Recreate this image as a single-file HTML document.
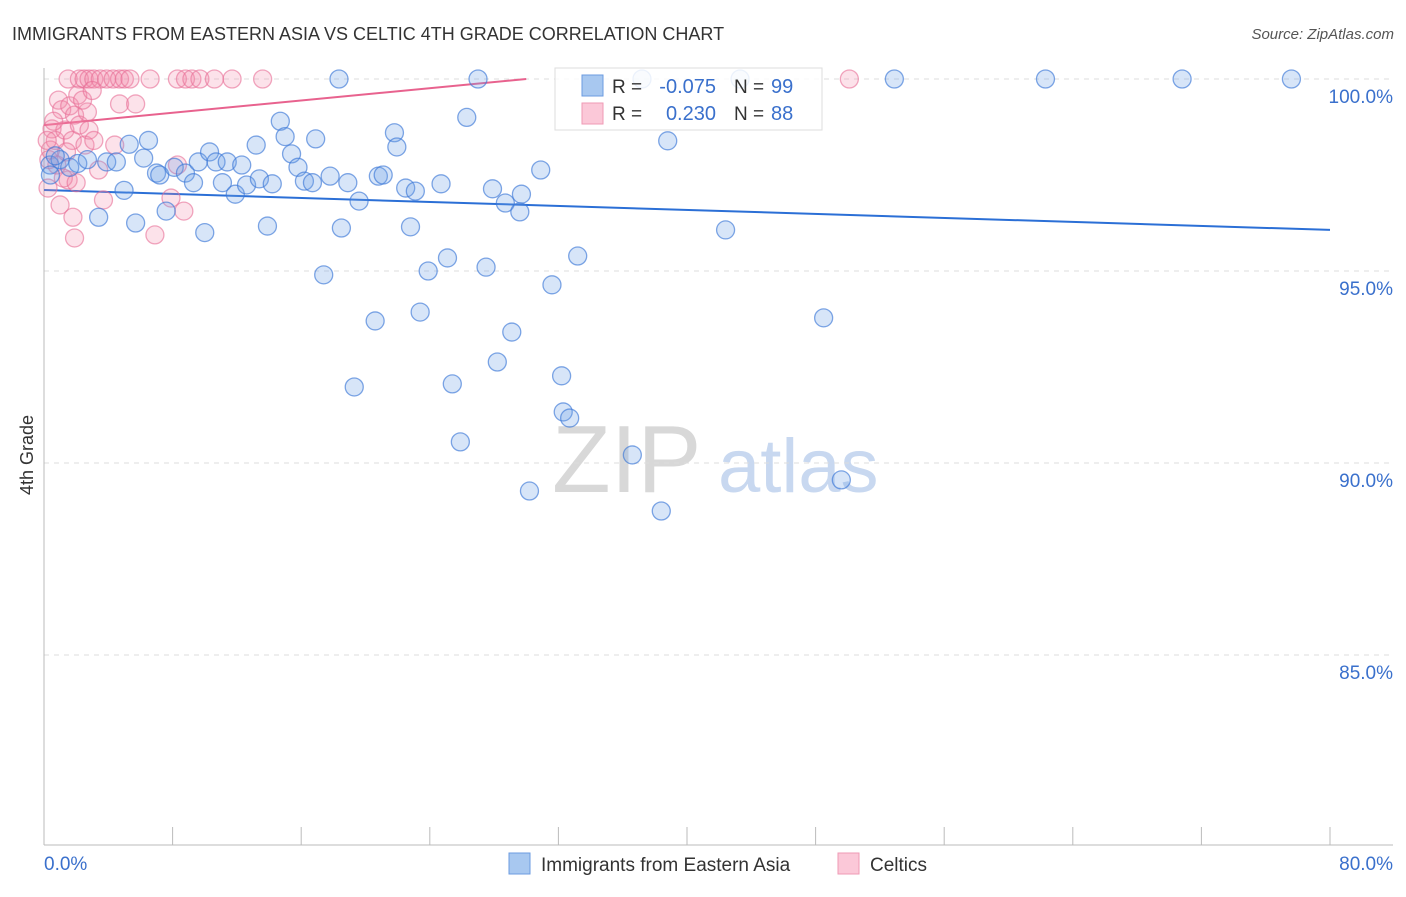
<!DOCTYPE html>
<html><head><meta charset="utf-8"><style>
body{margin:0;background:#fff;font-family:"Liberation Sans",sans-serif;}
svg text{font-family:"Liberation Sans",sans-serif;}
</style></head><body>
<svg id="chart" width="1406" height="892" xmlns="http://www.w3.org/2000/svg">
<text x="12" y="40" font-size="18" fill="#333">IMMIGRANTS FROM EASTERN ASIA VS CELTIC 4TH GRADE CORRELATION CHART</text>
<text x="1394" y="39" font-size="15" fill="#555" text-anchor="end" font-style="italic">Source: ZipAtlas.com</text>
<text transform="translate(33,455) rotate(-90)" font-size="18" fill="#333" text-anchor="middle">4th Grade</text>
<g>
<text x="552" y="492" font-size="96" fill="#d8d8d8" font-family="Liberation Serif">ZIP</text>
<text x="718" y="492" font-size="76" fill="#c8d8f0">atlas</text>
</g>
<g id="grid"></g><g id="axes"></g><g id="lines"></g><g id="pts"></g>
<g>
<rect x="555" y="68" width="267" height="62" fill="#fff" fill-opacity="0.85" stroke="#ddd"/>
<rect x="582" y="75" width="21" height="21" fill="#a8c8f0" stroke="#6b9be0"/>
<rect x="582" y="103" width="21" height="21" fill="#fbc8d8" stroke="#ef9ab5"/>
<text x="612" y="93" font-size="19" fill="#333">R = </text><text x="716" y="93" font-size="20" fill="#3a70cc" text-anchor="end">-0.075</text>
<text x="734" y="93" font-size="19" fill="#333">N = </text><text x="771" y="93" font-size="20" fill="#3a70cc">99</text>
<text x="612" y="120" font-size="19" fill="#333">R = </text><text x="716" y="120" font-size="20" fill="#3a70cc" text-anchor="end">0.230</text>
<text x="734" y="120" font-size="19" fill="#333">N = </text><text x="771" y="120" font-size="20" fill="#3a70cc">88</text>
</g>
<g>
<rect x="509" y="853" width="21" height="21" fill="#a8c8f0" stroke="#6b9be0"/>
<text x="541" y="871" font-size="19" fill="#333">Immigrants from Eastern Asia</text>
<rect x="838" y="853" width="21" height="21" fill="#fbc8d8" stroke="#ef9ab5"/>
<text x="870" y="871" font-size="19" fill="#333">Celtics</text>
</g>
</svg>
<script>
const yTicks=[100,95,90,85];
const yTickLabels=["100.0%","95.0%","90.0%","85.0%"];
const xTicks=[0,8,16,24,32,40,48,56,64,72,80];
const xEndLabels=["0.0%","80.0%"];
const blueX=[18.35,27.0,52.9,62.3,70.8,77.6,37.2,43.3,0.37,1.0,1.6,2.1,2.7,3.9,4.5,3.4,4.98,5.3,5.7,6.2,6.5,7.0,7.2,7.6,8.1,8.8,9.3,9.6,10.0,10.3,10.7,11.1,11.4,11.9,12.3,12.6,13.2,13.4,13.9,14.2,14.7,15.0,15.4,15.8,16.2,16.7,16.9,17.4,17.8,18.5,18.9,19.6,20.6,20.8,21.1,21.8,21.95,22.5,22.8,23.1,23.4,23.9,24.7,25.1,25.9,26.3,27.5,27.9,28.2,28.7,29.1,29.6,29.7,30.2,30.9,31.6,32.2,32.3,32.7,33.2,36.6,38.4,38.8,42.4,48.5,49.6,19.3,25.4,0.4,0.7];
const blueY=[100,100,100,100,100,100,100,100,97.76,97.9,97.7,97.8,97.9,97.84,97.84,96.4,97.1,98.3,96.25,97.94,98.4,97.55,97.5,96.56,97.7,97.55,97.3,97.84,96.0,98.1,97.84,97.3,97.84,97.0,97.76,97.24,98.28,97.4,96.17,97.27,98.9,98.5,98.05,97.7,97.34,97.3,98.44,94.9,97.47,96.12,97.3,96.82,93.7,97.47,97.5,98.6,98.23,97.16,96.15,97.08,93.93,95.0,97.27,95.34,90.55,99.0,95.1,97.14,92.63,96.77,93.41,96.54,97.0,89.27,97.63,94.64,92.27,91.33,91.17,95.39,90.21,88.75,98.39,96.07,93.78,89.56,91.98,92.06,97.5,98.0];
const pinkX=[1.5,2.2,2.5,2.8,3.1,3.5,3.9,4.3,4.7,5.0,5.35,6.6,8.3,8.8,9.2,9.7,10.6,11.7,13.6,50.1,4.7,5.7,0.4,0.5,0.25,0.7,0.9,1.1,1.3,1.6,1.76,1.9,2.1,2.2,2.55,2.7,2.8,3.1,3.4,1.0,1.5,1.8,1.9,3.7,6.9,7.9,8.7,8.3,4.4,0.8,1.2,0.2,2.4,3.0,0.3,0.6,1.4,2.0];
const pinkY=[100,100,100,100,100,100,100,100,100,100,100,100,100,100,100,100,100,100,100,100,99.35,99.35,98.15,98.7,97.16,98.4,99.45,99.2,98.67,99.3,98.4,99.06,99.58,98.8,98.28,99.14,98.67,98.4,97.63,96.72,97.37,96.4,95.86,96.85,95.94,96.9,96.56,97.76,98.28,97.76,97.42,98.4,99.45,99.7,97.9,98.9,98.1,97.3];
const blueLine=[97.11,-0.013];
const pinkLine=[98.8,0.04,30];
const NS="http://www.w3.org/2000/svg";
const X0=44,X1=1330,Y100=79,PX5=192;
const sx=v=>X0+(v/80)*(X1-X0);
const sy=v=>Y100+(100-v)/5*PX5;
function mk(tag,attrs,parent){const e=document.createElementNS(NS,tag);for(const k in attrs)e.setAttribute(k,attrs[k]);document.getElementById(parent).appendChild(e);return e;}
yTicks.forEach((t,i)=>{
 const g=mk('line',{x1:X0,x2:1393,y1:sy(t),y2:sy(t),stroke:'#ddd','stroke-dasharray':'5,5'},'grid');
 
 
 const l=mk('text',{x:1393,y:sy(t)+24,'font-size':19,fill:'#3a70cc','text-anchor':'end'},'grid');
 l.textContent=yTickLabels[i];
 
 
});
const ax=mk('line',{x1:X0,x2:X0,y1:68,y2:845,stroke:'#bbb'},'axes');


const bx=mk('line',{x1:X0,x2:1393,y1:845,y2:845,stroke:'#bbb'},'axes');


xTicks.forEach(t=>{
 const k=mk('line',{x1:sx(t),x2:sx(t),y1:827,y2:845,stroke:'#bbb'},'axes');
 
 
});
const xl0=mk('text',{x:X0,y:870,'font-size':19,fill:'#3a70cc'},'axes');xl0.textContent=xEndLabels[0];


const xl1=mk('text',{x:1393,y:870,'font-size':19,fill:'#3a70cc','text-anchor':'end'},'axes');xl1.textContent=xEndLabels[1];


pinkX.forEach((x,i)=>{
 const c=mk('circle',{cx:sx(x),cy:sy(pinkY[i]),r:9,fill:'rgba(244,140,170,0.25)',stroke:'rgba(232,110,150,0.6)','stroke-width':1.3},'pts');
 
 
});
blueX.forEach((x,i)=>{
 const c=mk('circle',{cx:sx(x),cy:sy(blueY[i]),r:9,fill:'rgba(110,160,230,0.28)',stroke:'rgba(60,120,215,0.65)','stroke-width':1.3},'pts');
 
 
});
const bl=mk('line',{x1:sx(0),y1:sy(blueLine[0]),x2:sx(80),y2:sy(blueLine[0]+blueLine[1]*80),stroke:'#2b6fd6','stroke-width':2},'lines');


const pl=mk('line',{x1:sx(0),y1:sy(pinkLine[0]),x2:sx(pinkLine[2]),y2:sy(pinkLine[0]+pinkLine[1]*pinkLine[2]),stroke:'#e8628e','stroke-width':2},'lines');


</script>
</body></html>
